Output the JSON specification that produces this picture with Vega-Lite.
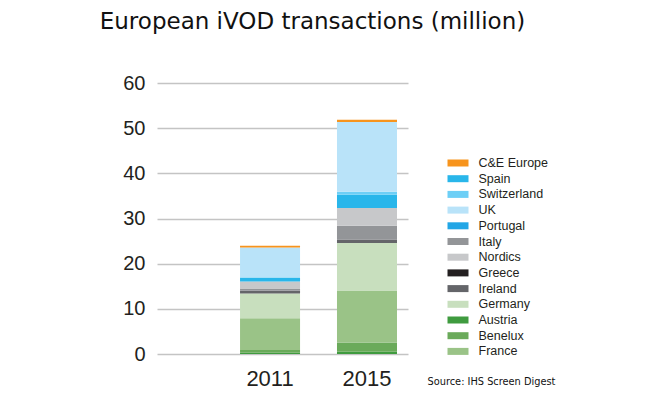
{
  "$schema": "https://vega.github.io/schema/vega-lite/v6.json",
  "width": 251,
  "height": 271,
  "autosize": {"type": "none"},
  "padding": {"left": 157, "top": 83, "right": 252, "bottom": 44},
  "background": "white",
  "title": {
    "text": "European iVOD transactions (million)",
    "anchor": "middle",
    "frame": "group",
    "dx": 30,
    "offset": 39,
    "font": "DejaVu Sans",
    "fontSize": 23,
    "fontWeight": "normal",
    "color": "#111111"
  },
  "data": {
    "values": [
      {"year": "2011", "region": "Austria", "value": 0.3},
      {"year": "2011", "region": "Benelux", "value": 0.6},
      {"year": "2011", "region": "France", "value": 7.0},
      {"year": "2011", "region": "Germany", "value": 5.5},
      {"year": "2011", "region": "Ireland", "value": 0.6},
      {"year": "2011", "region": "Greece", "value": 0.0},
      {"year": "2011", "region": "Italy", "value": 0.5},
      {"year": "2011", "region": "Nordics", "value": 1.55},
      {"year": "2011", "region": "Portugal", "value": 0.0},
      {"year": "2011", "region": "Spain", "value": 0.9},
      {"year": "2011", "region": "Switzerland", "value": 0.0},
      {"year": "2011", "region": "UK", "value": 6.65},
      {"year": "2011", "region": "C&E Europe", "value": 0.35},
      {"year": "2015", "region": "Austria", "value": 0.5},
      {"year": "2015", "region": "Benelux", "value": 2.05},
      {"year": "2015", "region": "France", "value": 11.5},
      {"year": "2015", "region": "Germany", "value": 10.5},
      {"year": "2015", "region": "Ireland", "value": 0.7},
      {"year": "2015", "region": "Greece", "value": 0.05},
      {"year": "2015", "region": "Italy", "value": 3.1},
      {"year": "2015", "region": "Nordics", "value": 3.9},
      {"year": "2015", "region": "Portugal", "value": 0.0},
      {"year": "2015", "region": "Spain", "value": 2.95},
      {"year": "2015", "region": "Switzerland", "value": 0.7},
      {"year": "2015", "region": "UK", "value": 15.4},
      {"year": "2015", "region": "C&E Europe", "value": 0.5}
    ]
  },
  "transform": [
    {"calculate": "indexof(['Austria','Benelux','France','Germany','Ireland','Greece','Italy','Nordics','Portugal','Spain','Switzerland','UK','C&E Europe'], datum.region)", "as": "rank"}
  ],
  "mark": {"type": "bar"},
  "encoding": {
    "x": {
      "field": "year",
      "type": "nominal",
      "scale": {"paddingInner": 0.381, "paddingOuter": 0.485, "align": 0.883},
      "axis": {
        "labelAngle": 0,
        "labelFont": "Liberation Sans",
        "labelFontSize": 22,
        "labelColor": "#231f20",
        "labelPadding": 14,
        "ticks": false,
        "domain": false,
        "title": "Source: IHS Screen Digest",
        "titleX": 270,
        "titleY": 27,
        "titleAlign": "left",
        "titleBaseline": "middle",
        "titleFont": "DejaVu Sans",
        "titleFontSize": 9.8,
        "titleFontWeight": "normal",
        "titleColor": "#111111"
      }
    },
    "y": {
      "field": "value",
      "type": "quantitative",
      "stack": "zero",
      "scale": {"domain": [0, 60]},
      "axis": {
        "values": [0, 10, 20, 30, 40, 50, 60],
        "labelFont": "Liberation Sans",
        "labelFontSize": 20,
        "labelColor": "#231f20",
        "labelPadding": 12,
        "ticks": false,
        "domain": false,
        "gridColor": "#c4c4c4",
        "gridWidth": 1.5,
        "title": null
      }
    },
    "color": {
      "field": "region",
      "type": "nominal",
      "scale": {
        "domain": ["C&E Europe", "Spain", "Switzerland", "UK", "Portugal", "Italy", "Nordics", "Greece", "Ireland", "Germany", "Austria", "Benelux", "France"],
        "range": ["#f7941d", "#29b6ea", "#6dcff6", "#b9e3f9", "#22a6e6", "#939598", "#c7c8ca", "#231f20", "#646569", "#c8dfbe", "#3f9b3f", "#6aaa5a", "#9ac387"]
      },
      "legend": {
        "orient": "none",
        "legendX": 294,
        "legendY": 73,
        "title": null,
        "symbolType": "M-1.5,-0.5H1.5V0.5H-1.5Z",
        "symbolSize": 196,
        "symbolStrokeWidth": 0,
        "symbolOpacity": 1,
        "labelFont": "Liberation Sans",
        "labelFontSize": 12.5,
        "labelColor": "#231f20",
        "labelOffset": 13.5,
        "rowPadding": 1.7
      }
    },
    "order": {"field": "rank", "type": "quantitative"}
  },
  "config": {"view": {"stroke": null}}
}
